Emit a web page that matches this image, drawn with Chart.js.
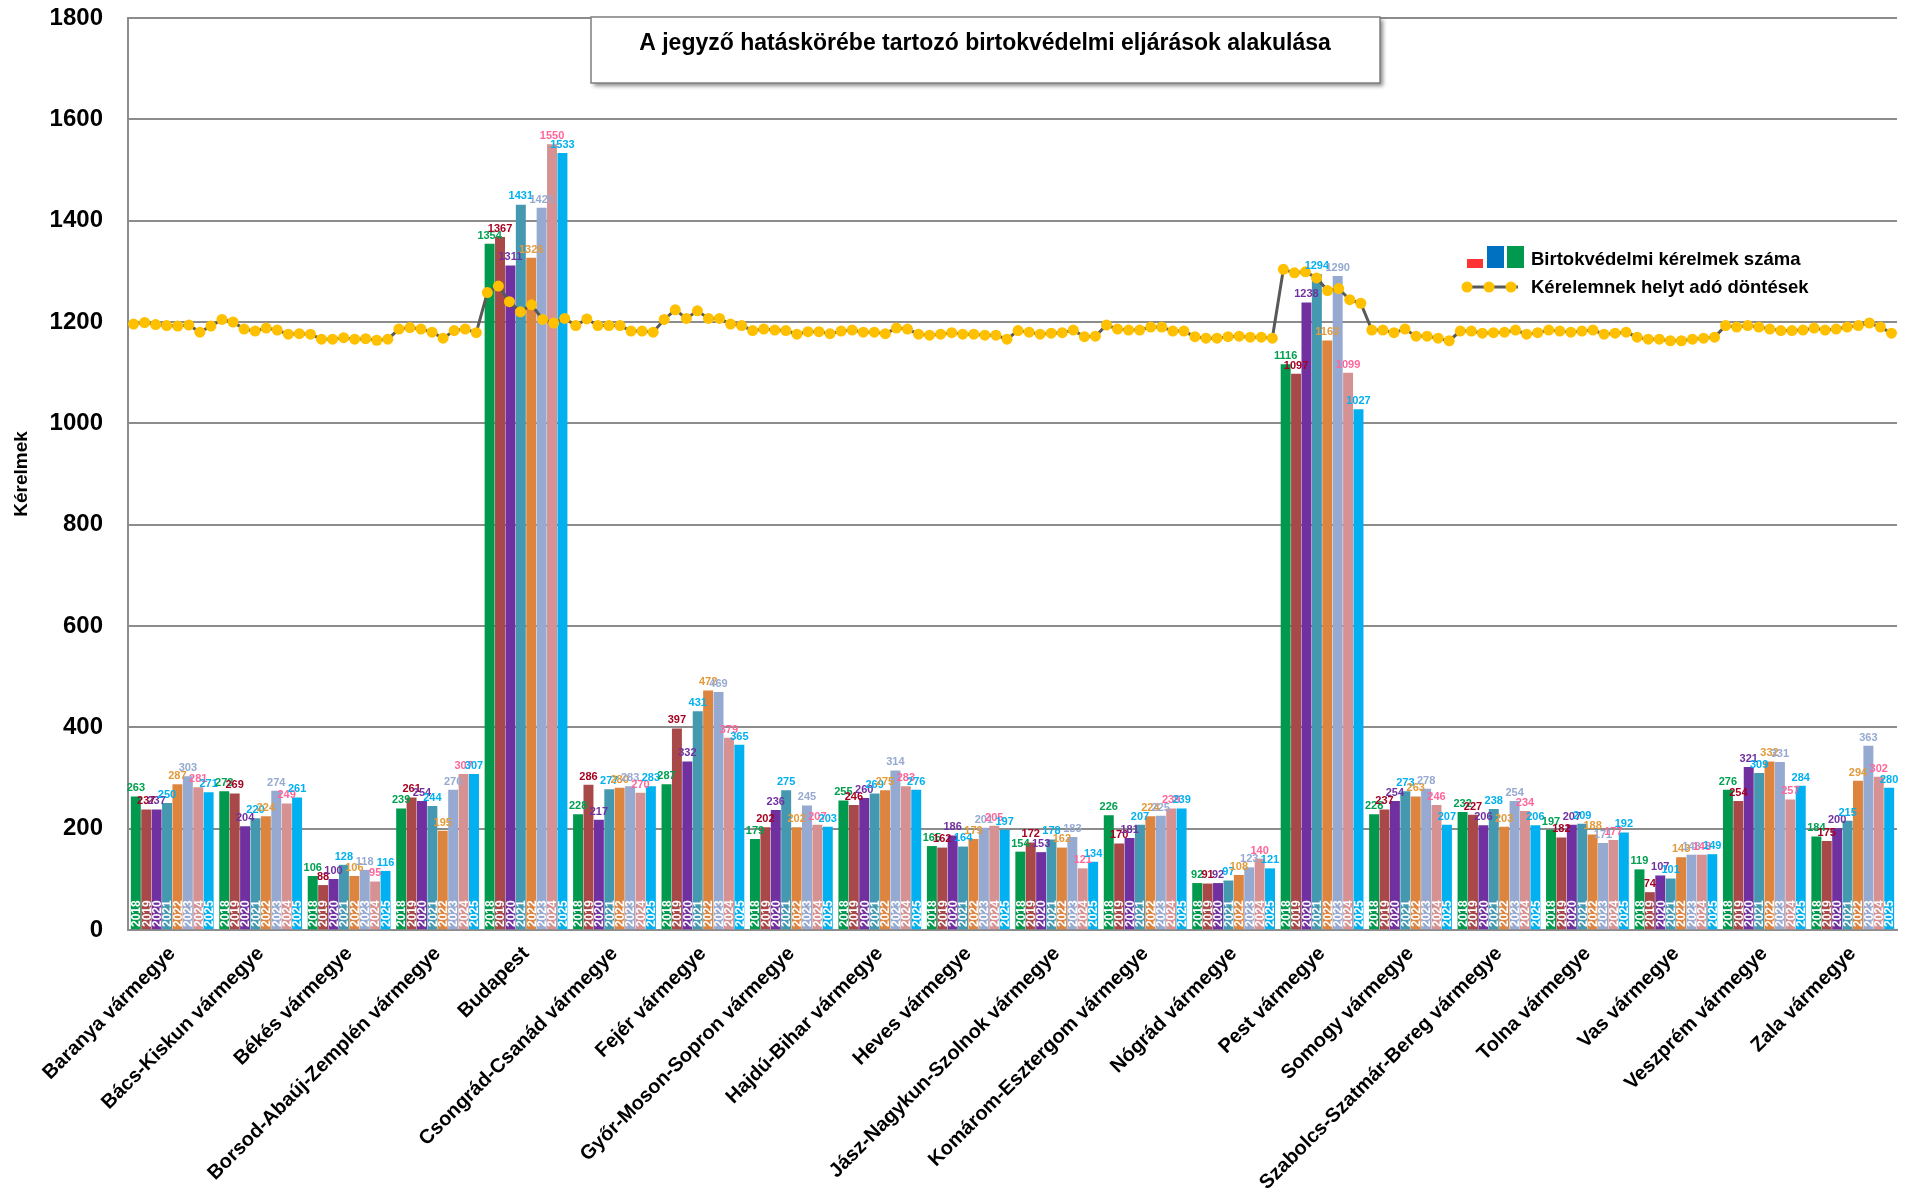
<!DOCTYPE html>
<html lang="hu">
<head>
<meta charset="utf-8">
<title>Birtokvédelmi eljárások</title>
<script src="https://cdn.jsdelivr.net/npm/chart.js@4.4.1/dist/chart.umd.min.js"></script>
<style>
  html, body { margin: 0; padding: 0; background: #fff; }
  #wrap { width: 1906px; height: 1204px; position: relative; }
</style>
</head>
<body>
<div id="wrap"><canvas id="chart"></canvas></div>
<script>
const counties = [
  'Baranya vármegye', 'Bács-Kiskun vármegye', 'Békés vármegye', 'Borsod-Abaúj-Zemplén vármegye',
  'Budapest', 'Csongrád-Csanád vármegye', 'Fejér vármegye', 'Győr-Moson-Sopron vármegye',
  'Hajdú-Bihar vármegye', 'Heves vármegye', 'Jász-Nagykun-Szolnok vármegye', 'Komárom-Esztergom vármegye',
  'Nógrád vármegye', 'Pest vármegye', 'Somogy vármegye', 'Szabolcs-Szatmár-Bereg vármegye',
  'Tolna vármegye', 'Vas vármegye', 'Veszprém vármegye', 'Zala vármegye'
]
const years = ['2018', '2019', '2020', '2021', '2022', '2023', '2024', '2025']

// kérelmek száma évenként (vármegyék sorrendjében)
const req2018 = [263, 273, 106, 239, 1354, 228, 287, 179, 255, 165, 154, 226, 92, 1116, 228, 232, 197, 119, 276, 184]
const req2019 = [237, 269, 88, 261, 1367, 286, 397, 202, 246, 162, 172, 170, 91, 1097, 237, 227, 182, 74, 254, 175]
const req2020 = [237, 204, 100, 254, 1311, 217, 332, 236, 260, 186, 153, 181, 92, 1238, 254, 206, 207, 107, 321, 200]
const req2021 = [250, 220, 128, 244, 1431, 277, 431, 275, 269, 164, 178, 207, 97, 1294, 273, 238, 209, 101, 309, 215]
const req2022 = [287, 224, 106, 195, 1326, 280, 472, 202, 275, 179, 162, 224, 108, 1163, 263, 203, 188, 143, 332, 294]
const req2023 = [303, 274, 118, 276, 1425, 283, 469, 245, 314, 201, 183, 225, 123, 1290, 278, 254, 171, 148, 331, 363]
const req2024 = [281, 249, 95, 307, 1550, 270, 379, 207, 283, 205, 121, 239, 140, 1099, 246, 234, 177, 148, 257, 302]
const req2025 = [271, 261, 116, 307, 1533, 283, 365, 203, 276, 197, 134, 239, 121, 1027, 207, 206, 192, 149, 284, 280]

// helyt adó döntések, vármegyénként 8 év
const decisions = [
  1196, 1199, 1195, 1193, 1192, 1194, 1180, 1192,
  1205, 1200, 1186, 1182, 1188, 1184, 1176, 1177,
  1176, 1166, 1166, 1169, 1166, 1167, 1164, 1166,
  1186, 1189, 1186, 1180, 1168, 1183, 1186, 1179,
  1258, 1271, 1240, 1220, 1234, 1205, 1198, 1207,
  1193, 1206, 1193, 1193, 1193, 1182, 1182, 1180,
  1205, 1224, 1207, 1222, 1207, 1207, 1196, 1193,
  1183, 1186, 1184, 1183, 1176, 1181, 1181, 1177,
  1182, 1184, 1180, 1180, 1177, 1188, 1186, 1176,
  1174, 1176, 1179, 1176, 1176, 1174, 1174, 1166,
  1183, 1180, 1176, 1178, 1179, 1184, 1171, 1172,
  1194, 1186, 1184, 1184, 1190, 1190, 1182, 1182,
  1171, 1168, 1168, 1171, 1172, 1170, 1170, 1168,
  1304, 1297, 1299, 1287, 1262, 1266, 1244, 1237,
  1184, 1184, 1179, 1186, 1172, 1172, 1168, 1163,
  1182, 1182, 1178, 1179, 1180, 1184, 1176, 1179,
  1184, 1182, 1180, 1182, 1184, 1176, 1178, 1180,
  1170, 1166, 1166, 1163, 1163, 1166, 1168, 1170,
  1193, 1190, 1193, 1190, 1186, 1183, 1183, 1184,
  1188, 1184, 1186, 1190, 1193, 1198, 1190, 1178
]

const yTicks = [0, 200, 400, 600, 800, 1000, 1200, 1400, 1600, 1800]

const barColors = ['#00994D', '#A84848', '#7030A0', '#4499B0', '#DD843F', '#95A9D1', '#D69292', '#00B0F0']
const labelColors = ['#00A050', '#A50021', '#7030A0', '#00B0F0', '#E39A3B', '#95A9D1', '#FF6699', '#00B0F0']
const gridColor = '#8C8C8C'
const font = '"Liberation Sans", Arial, sans-serif'

const yearSeries = [req2018, req2019, req2020, req2021, req2022, req2023, req2024, req2025]
// a vonal pontjai egyenletesen, az oszlopok vármegyénként csoportosítva
const slotLabels = counties.flatMap(c => years.map(y => `${c} ${y}`))
const groupStep = 0.1176
const barPoints = counties.flatMap((c, j) => yearSeries.map((s, i) => ({ x: j + (i - 3.5) * groupStep, y: s[j] })))
const slotColors = counties.flatMap(() => barColors)

const barLabels = {
  id: 'barLabels',
  afterDatasetsDraw(chart) {
    const ctx = chart.ctx
    const ds = chart.data.datasets[0]
    chart.getDatasetMeta(0).data.forEach((bar, j) => {
      const y = j % 8
      ctx.save()
      ctx.font = `bold 11px ${font}`
      ctx.fillStyle = labelColors[y]
      ctx.textAlign = 'center'
      ctx.textBaseline = 'bottom'
      ctx.fillText(ds.data[j].y, bar.x, bar.y - 3)
      ctx.translate(bar.x, bar.base - 2)
      ctx.rotate(-Math.PI / 2)
      ctx.font = `bold 12px ${font}`
      ctx.fillStyle = '#fff'
      ctx.textAlign = 'left'
      ctx.textBaseline = 'middle'
      ctx.fillText(years[y], 0, 1)
      ctx.restore()
    })
  }
}

const titleAndLegend = {
  id: 'titleAndLegend',
  afterDraw(chart) {
    const ctx = chart.ctx
    // cím doboz
    ctx.save()
    ctx.shadowColor = 'rgba(0,0,0,0.45)'
    ctx.shadowBlur = 4
    ctx.shadowOffsetX = 3
    ctx.shadowOffsetY = 3
    ctx.fillStyle = '#fff'
    ctx.fillRect(591, 17, 789, 66)
    ctx.restore()
    ctx.save()
    ctx.strokeStyle = '#7F7F7F'
    ctx.lineWidth = 1.5
    ctx.strokeRect(591, 17, 789, 66)
    ctx.font = `bold 23px ${font}`
    ctx.fillStyle = '#000'
    ctx.textAlign = 'center'
    ctx.textBaseline = 'middle'
    ctx.fillText('A jegyző hatáskörébe tartozó birtokvédelmi eljárások alakulása', 985, 44)

    // jelmagyarázat
    ctx.fillStyle = '#FF3333'
    ctx.fillRect(1467, 259, 16, 9)
    ctx.fillStyle = '#0070C0'
    ctx.fillRect(1487, 246, 17, 22)
    ctx.fillStyle = '#00994D'
    ctx.fillRect(1507, 246, 17, 22)
    ctx.strokeStyle = '#595959'
    ctx.lineWidth = 3
    ctx.beginPath()
    ctx.moveTo(1467, 287)
    ctx.lineTo(1518, 287)
    ctx.stroke()
    ctx.fillStyle = '#FFC000'
    ;[1467, 1489, 1511].forEach(x => {
      ctx.beginPath()
      ctx.arc(x, 287, 5.5, 0, Math.PI * 2)
      ctx.fill()
    })
    ctx.fillStyle = '#000'
    ctx.font = `bold 18.5px ${font}`
    ctx.textAlign = 'left'
    ctx.fillText('Birtokvédelmi kérelmek száma', 1531, 260)
    ctx.fillText('Kérelemnek helyt adó döntések', 1531, 288)
    ctx.restore()
  }
}

Chart.defaults.font.family = font
Chart.defaults.color = '#000'

new Chart(document.getElementById('chart'), {
  data: {
    labels: counties,
    datasets: [
      {
        type: 'bar',
        label: 'Birtokvédelmi kérelmek száma',
        data: barPoints,
        xAxisID: 'x3',
        backgroundColor: slotColors,
        grouped: false,
        barThickness: 9.3,
        order: 1
      },
      {
        type: 'line',
        label: 'Kérelemnek helyt adó döntések',
        data: decisions,
        xAxisID: 'x2',
        borderColor: '#595959',
        borderWidth: 3,
        tension: 0,
        pointRadius: 5.5,
        pointBackgroundColor: '#FFC000',
        pointBorderWidth: 0,
        order: 0
      }
    ]
  },
  options: {
    responsive: true,
    maintainAspectRatio: false,
    animation: false,
    layout: { padding: { left: 10, top: 3, right: 9, bottom: 0 } },
    plugins: {
      legend: { display: false },
      title: { display: false },
      tooltip: { enabled: false }
    },
    scales: {
      x: {
        type: 'category',
        offset: true,
        grid: { display: false, offset: true },
        border: { display: true, color: gridColor, width: 2 },
        ticks: {
          autoSkip: false,
          minRotation: 45,
          maxRotation: 45,
          padding: 4,
          font: { size: 20, weight: 'bold' }
        },
        afterFit: (scale) => {
          scale.height = 274
          scale.paddingRight = 0
        }
      },
      x2: {
        type: 'category',
        labels: slotLabels,
        display: false,
        offset: true
      },
      x3: {
        type: 'linear',
        min: -0.5,
        max: 19.5,
        display: false,
        offset: false
      },
      y: {
        min: 0,
        max: 1800,
        afterBuildTicks: (scale) => { scale.ticks = yTicks.map(v => ({ value: v })) },
        grid: { color: gridColor, lineWidth: 2, drawTicks: false },
        border: { display: true, color: gridColor, width: 2 },
        ticks: { padding: 25, font: { size: 24, weight: 'bold' }, callback: (v) => String(v) },
        title: { display: true, text: 'Kérelmek', font: { size: 19, weight: 'bold' }, padding: 0 },
        afterFit: (scale) => {
          scale.width = 118
          scale.paddingTop = 18
          scale.paddingBottom = 0
        }
      }
    }
  },
  plugins: [barLabels, titleAndLegend]
})
</script>
</body>
</html>
